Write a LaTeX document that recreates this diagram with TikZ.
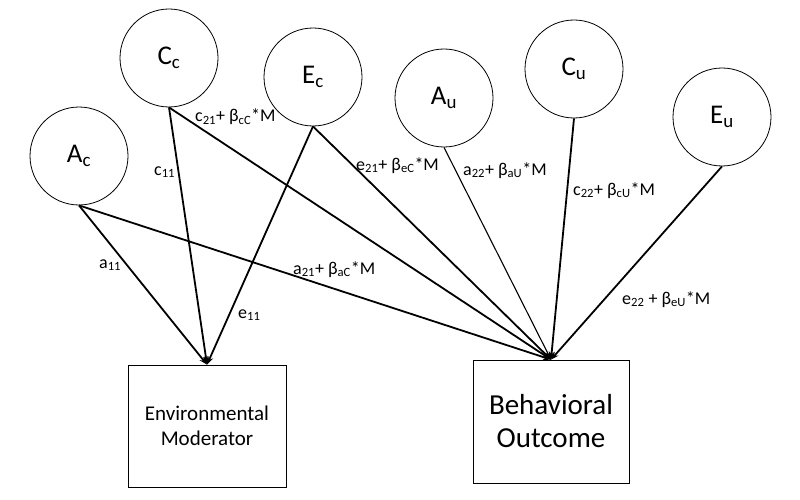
\documentclass[tikz,border=0pt]{standalone}
\usepackage{fontspec}
\setmainfont{Carlito}
\usetikzlibrary{arrows.meta,positioning}

\begin{document}
\begin{tikzpicture}[x=1pt,y=-1pt,
    lat/.style={circle,draw,line width=0.8pt,minimum size=98pt,inner sep=0pt,font=\fontsize{27}{30}\selectfont},
    obs/.style={rectangle,draw,line width=0.8pt,inner sep=0pt,align=center},
    eff/.style={-{Stealth[length=8pt,width=6pt]},line width=1.8pt},
    coef/.style={inner sep=0pt,anchor=base west,font=\fontsize{18}{20}\selectfont}]
            \useasboundingbox (0,0) rectangle (800,500);

            \node[lat] (ac) at (79,156) {A\textsubscript{c}};
            \node[lat] (cc) at (169,58) {C\textsubscript{c}};
            \node[lat] (ec) at (313,77) {E\textsubscript{c}};
            \node[lat] (au) at (444,98) {A\textsubscript{u}};
            \node[lat] (cu) at (574,69) {C\textsubscript{u}};
            \node[lat] (eu) at (722,117) {E\textsubscript{u}};

            \node[obs,minimum width=158pt,minimum height=122pt,font=\fontsize{21}{25}\selectfont] (env) at (207,426) {Environmental\\Moderator};
            \node[obs,minimum width=156pt,minimum height=123pt,font=\fontsize{29}{33}\selectfont] (out) at (551,421.5) {Behavioral\\Outcome};

            \draw[eff] (ac.south) -- (env.north);
            \draw[eff] (cc.south) -- (env.north);
            \draw[eff] (ec.south) -- (env.north);
            \draw[eff] (ac.south) -- (out.north);
            \draw[eff] (cc.south) -- (out.north);
            \draw[eff] (ec.south) -- (out.north);
            \draw[eff,line width=1.1pt] (au.south) -- (out.north);
            \draw[eff] (cu.south) -- (out.north);
            \draw[eff] (eu.south) -- (out.north);

            \node[coef] (la11) at (99,268) {a\textsubscript{11}};
            \node[coef] (lc11) at (154,175) {c\textsubscript{11}};
            \node[coef] (le11) at (238,318) {e\textsubscript{11}};
            \node[coef] (lc21) at (195,122) {c\textsubscript{21}+ β\textsubscript{cC}*M};
            \node[coef] (le21) at (356,170) {e\textsubscript{21}+ β\textsubscript{eC}*M};
            \node[coef] (la21) at (293,274) {a\textsubscript{21}+ β\textsubscript{aC}*M};
            \node[coef] (la22) at (463,175) {a\textsubscript{22}+ β\textsubscript{aU}*M};
            \node[coef] (lc22) at (573,195) {c\textsubscript{22}+ β\textsubscript{cU}*M};
            \node[coef] (le22) at (622,304) {e\textsubscript{22} + β\textsubscript{eU}*M};
        \end{tikzpicture}
\end{document}
